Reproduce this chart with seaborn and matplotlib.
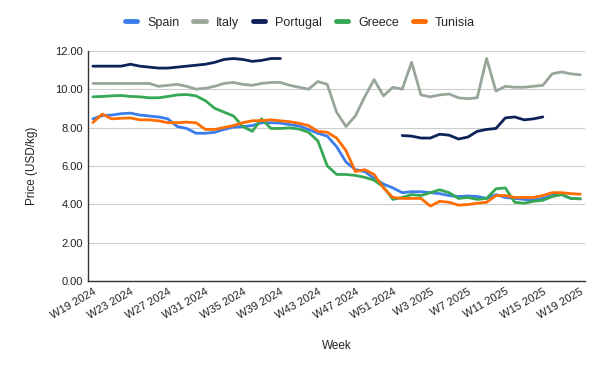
import numpy as np
import pandas as pd
import matplotlib
matplotlib.use("Agg")
import matplotlib.pyplot as plt
import seaborn as sns

# weekly categories W19 2024 .. W19 2025
weeks = [f"W{w} 2024" for w in range(19, 53)] + [f"W{w} 2025" for w in range(1, 20)]

spain = [8.45, 8.62, 8.65, 8.72, 8.75, 8.65, 8.6, 8.55, 8.45, 8.05,
         7.95, 7.7, 7.7, 7.75, 7.9, 8.02, 8.05, 8.1, 8.25, 8.25,
         8.23, 8.15, 8.08, 7.9, 7.7, 7.55, 7.0, 6.2, 5.8, 5.7,
         5.35, 5.05, 4.85, 4.6, 4.65, 4.65, 4.6, 4.55, 4.45, 4.4,
         4.43, 4.4, 4.3, 4.5, 4.35, 4.3, 4.25, 4.22, 4.3, 4.45,
         4.5, 4.3, 4.28]
italy = [10.3, 10.3, 10.3, 10.3, 10.3, 10.3, 10.3, 10.15, 10.2, 10.25,
         10.15, 10.0, 10.05, 10.15, 10.3, 10.35, 10.25, 10.2, 10.3, 10.35,
         10.35, 10.2, 10.1, 10.0, 10.4, 10.25, 8.8, 8.05, 8.6, 9.6,
         10.5, 9.65, 10.1, 10.0, 11.4, 9.7, 9.6, 9.7, 9.75, 9.55,
         9.5, 9.55, 11.6, 9.9, 10.15, 10.1, 10.1, 10.15, 10.2, 10.8,
         10.9, 10.8, 10.75]
portugal = [11.2, 11.2, 11.2, 11.2, 11.3, 11.2, 11.15, 11.1, 11.1, 11.15,
            11.2, 11.25, 11.3, 11.4, 11.55, 11.6, 11.55, 11.45, 11.5, 11.6,
            11.6, np.nan, np.nan, np.nan, np.nan, np.nan, np.nan, np.nan, np.nan, np.nan,
            np.nan, np.nan, np.nan, 7.58, 7.55, 7.45, 7.45, 7.65, 7.6, 7.4,
            7.5, 7.8, 7.9, 7.95, 8.5, 8.55, 8.4, 8.45, 8.55, np.nan,
            np.nan, np.nan, np.nan]
greece = [9.6, 9.62, 9.65, 9.67, 9.62, 9.6, 9.55, 9.55, 9.62, 9.7,
          9.72, 9.65, 9.4, 9.0, 8.8, 8.6, 8.05, 7.8, 8.45, 7.95,
          7.95, 7.98, 7.92, 7.75, 7.3, 6.0, 5.55, 5.55, 5.5, 5.4,
          5.25, 4.9, 4.25, 4.35, 4.5, 4.45, 4.6, 4.75, 4.6, 4.3,
          4.35, 4.25, 4.3, 4.8, 4.85, 4.1, 4.05, 4.15, 4.2, 4.4,
          4.5, 4.3, 4.28]
tunisia = [8.26, 8.7, 8.45, 8.48, 8.5, 8.4, 8.4, 8.35, 8.25, 8.25,
           8.28, 8.25, 7.9, 7.9, 8.0, 8.1, 8.25, 8.35, 8.36, 8.4,
           8.35, 8.3, 8.22, 8.1, 7.8, 7.75, 7.45, 6.8, 5.7, 5.8,
           5.55, 4.85, 4.35, 4.3, 4.3, 4.3, 3.9, 4.15, 4.1, 3.95,
           3.98, 4.05, 4.1, 4.45, 4.45, 4.35, 4.35, 4.35, 4.45, 4.6,
           4.6, 4.55, 4.52]

countries = ["Spain", "Italy", "Portugal", "Greece", "Tunisia"]
series = [spain, italy, portugal, greece, tunisia]
colors = {"Spain": "#3b7ded", "Italy": "#98a699", "Portugal": "#0d2258",
          "Greece": "#36a853", "Tunisia": "#ff6d01"}

# long-form table, segments split at gaps so lines are not bridged
rows = []
for name, vals in zip(countries, series):
    seg = 0
    for i, v in enumerate(vals):
        if np.isnan(v):
            seg += 1
            continue
        rows.append({"idx": i, "price": v, "country": name, "seg": f"{name}{seg}"})
df = pd.DataFrame(rows)

sns.set_theme(style="white")
plt.rcParams["font.family"] = ["Liberation Sans", "DejaVu Sans"]

fig = plt.figure(figsize=(6, 3.71), dpi=100)
ax = fig.add_axes([0.147, 0.243, 0.828, 0.62])

for name in countries:
    sub = df[df["country"] == name]
    sns.lineplot(data=sub, x="idx", y="price", units="seg", estimator=None,
                 color=colors[name], linewidth=2, ax=ax, legend=False)

ax.set_xlim(-0.5, len(weeks) - 0.5)
ax.set_ylim(0, 12)
ax.set_yticks(np.arange(0, 12.1, 2))
ax.set_yticklabels([f"{v:.2f}" for v in np.arange(0, 12.1, 2)], fontsize=8, color="#222222")
tick_pos = list(range(0, len(weeks), 4))
ax.set_xticks(tick_pos)
ax.set_xticklabels([weeks[i] for i in tick_pos], rotation=30, ha="right",
                   rotation_mode="anchor", fontsize=8, color="#222222")
ax.tick_params(length=0, pad=4)
ax.grid(axis="y", color="#cccccc", linewidth=0.8)
ax.set_axisbelow(True)
for s in ["top", "right"]:
    ax.spines[s].set_visible(False)
for s in ["left", "bottom"]:
    ax.spines[s].set_color("#333333")
    ax.spines[s].set_linewidth(1)

ax.set_xlabel("Week", fontsize=8.5, color="#222222", labelpad=14)
ax.set_ylabel("Price (USD/kg)", fontsize=8.5, color="#222222", labelpad=12)

handles = [plt.Line2D([], [], color=colors[n], linewidth=3.5) for n in countries]
fig.legend(handles, countries, loc="upper center", bbox_to_anchor=(0.5, 0.985), ncol=5,
           frameon=False, fontsize=9, handlelength=1.0, columnspacing=1.1,
           handletextpad=0.8)

fig.savefig("out.png", dpi=100)
